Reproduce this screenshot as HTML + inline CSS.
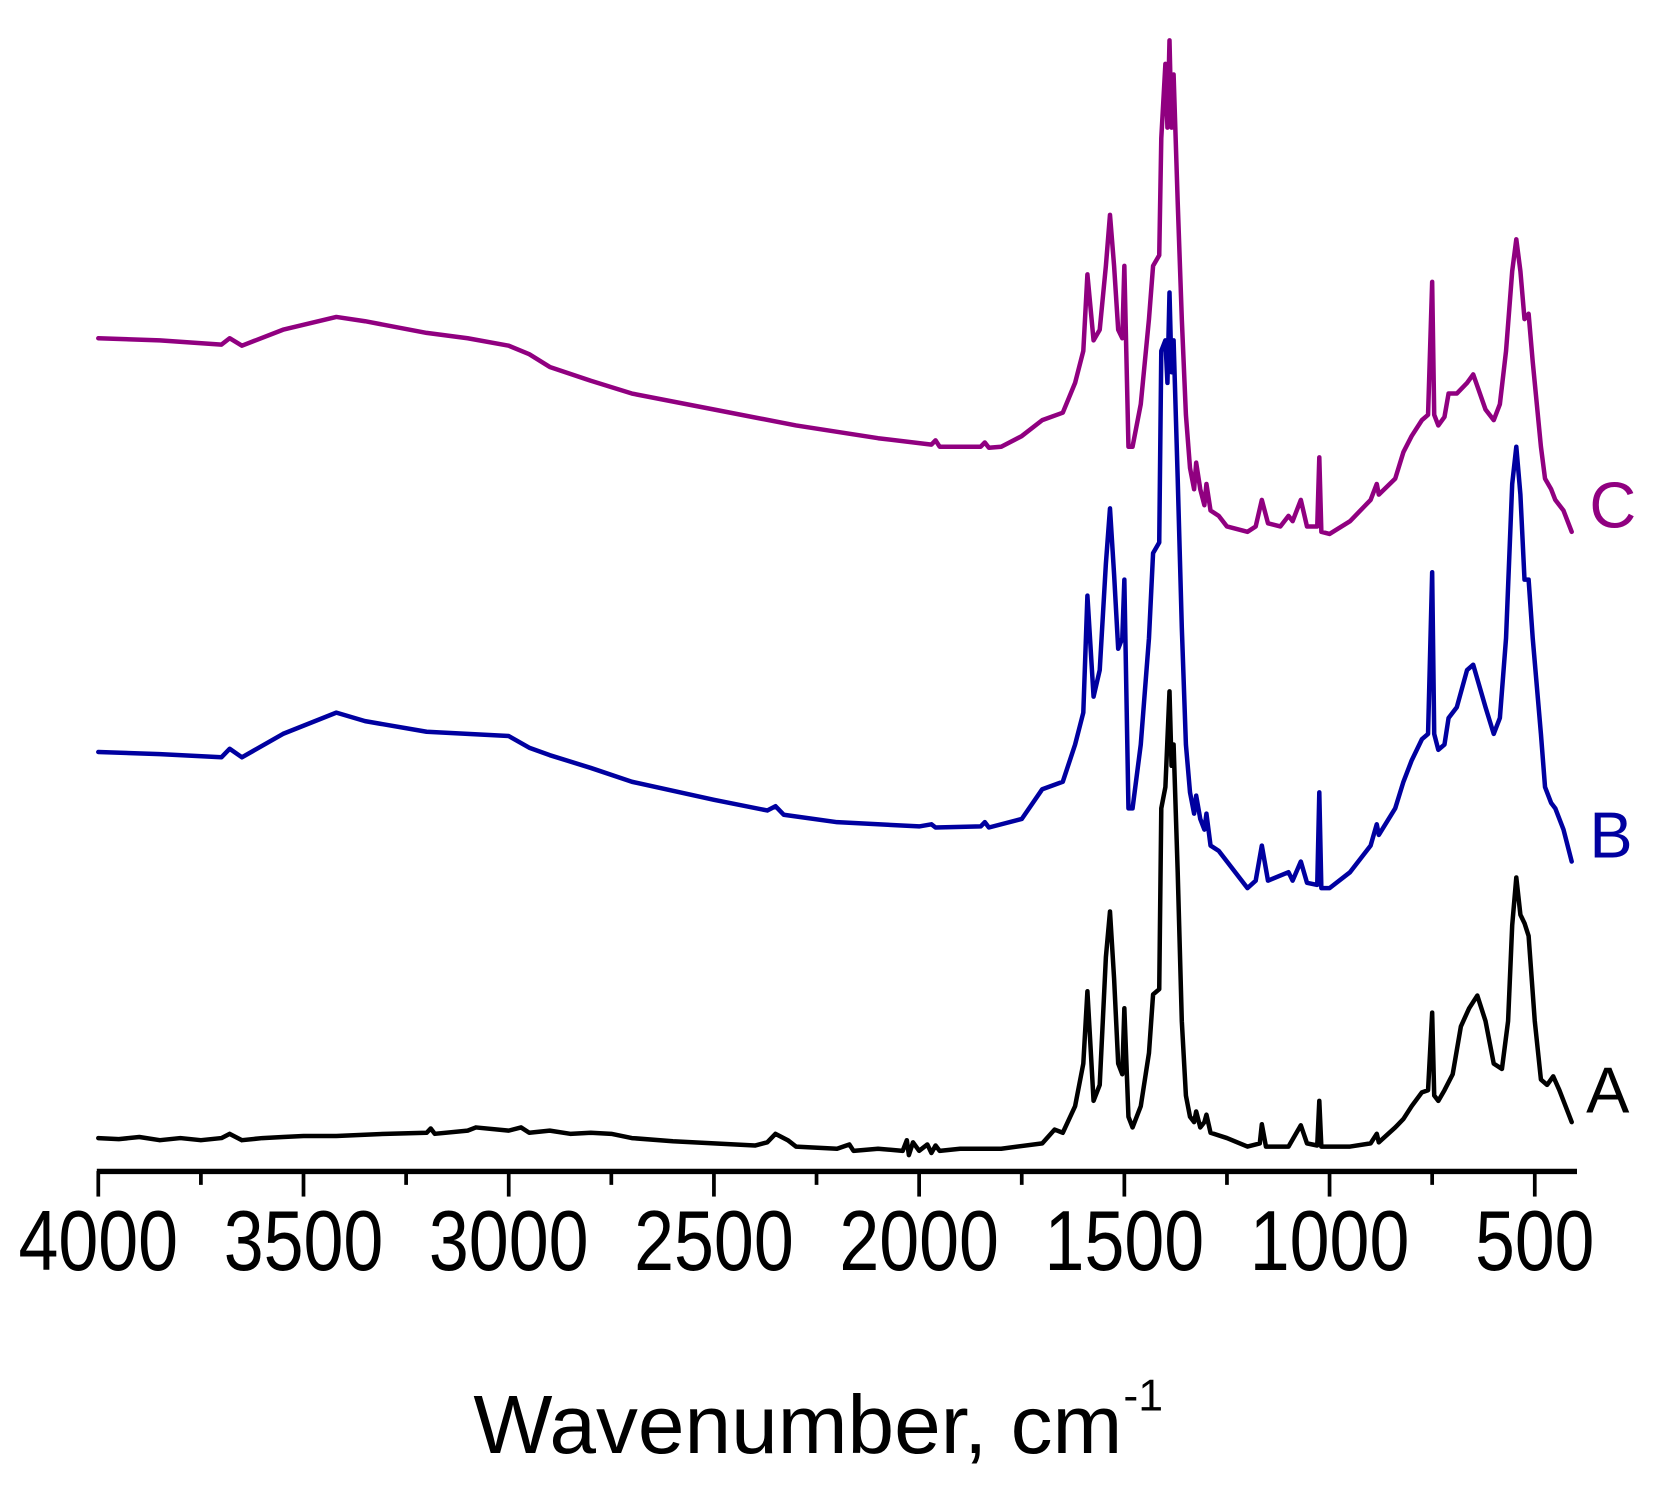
<!DOCTYPE html>
<html><head><meta charset="utf-8"><style>html,body{margin:0;padding:0;background:#fff;}svg{display:block;}</style></head>
<body>
<svg width="1667" height="1488" viewBox="0 0 1567 1399" preserveAspectRatio="none" xmlns="http://www.w3.org/2000/svg">
<rect width="1567" height="1399" fill="#fff"/>
<g transform="matrix(-0.3858,0,0,1,1635.6,0)" fill="none" stroke-linejoin="round" stroke-linecap="round">
<path vector-effect="non-scaling-stroke" stroke="#900080" stroke-width="4.5" d="M4000,318 L3850,320 L3700,324 L3680,318 L3650,325 L3550,310 L3420,298 L3350,302 L3200,313 L3100,318 L3000,325 L2950,333 L2900,345 L2800,358 L2700,370 L2500,385 L2300,400 L2100,412 L1970,418 L1960,414 L1950,420 L1850,420 L1840,416 L1830,421 L1800,420 L1750,410 L1700,395 L1650,388 L1620,360 L1600,330 L1590,258 L1575,320 L1560,310 L1545,250 L1535,202 L1525,250 L1515,310 L1505,318 L1500,250 L1490,420 L1480,420 L1460,380 L1440,300 L1430,250 L1415,240 L1410,130 L1400,60 L1395,120 L1390,38 L1385,120 L1380,70 L1370,190 L1360,300 L1350,390 L1340,440 L1330,460 L1325,435 L1315,460 L1305,475 L1300,455 L1290,480 L1270,485 L1250,495 L1200,500 L1180,495 L1165,470 L1150,492 L1120,495 L1100,485 L1090,490 L1070,470 L1055,495 L1030,495 L1025,430 L1020,500 L1000,502 L950,490 L900,470 L885,455 L880,465 L840,450 L820,425 L800,410 L775,395 L760,390 L750,265 L745,390 L735,400 L720,392 L710,370 L690,370 L665,360 L650,352 L620,385 L600,395 L585,380 L570,330 L555,255 L545,225 L535,255 L525,300 L515,295 L505,340 L485,420 L475,450 L460,460 L450,470 L430,480 L410,500"/>
<path vector-effect="non-scaling-stroke" stroke="#0000a0" stroke-width="4.5" d="M4000,707 L3850,709 L3700,712 L3680,704 L3650,712 L3550,690 L3420,670 L3350,678 L3200,688 L3100,690 L3000,692 L2950,703 L2900,710 L2800,722 L2700,735 L2500,752 L2370,762 L2350,758 L2330,766 L2200,773 L2000,777 L1970,775 L1960,778 L1850,777 L1840,773 L1830,778 L1750,770 L1700,742 L1650,735 L1620,700 L1600,670 L1590,560 L1575,655 L1560,630 L1545,530 L1535,478 L1525,540 L1515,610 L1505,600 L1500,545 L1490,760 L1480,760 L1460,700 L1440,600 L1430,520 L1415,510 L1410,330 L1400,320 L1395,360 L1390,275 L1385,350 L1380,320 L1370,450 L1360,590 L1350,700 L1340,745 L1330,765 L1325,748 L1315,770 L1305,780 L1300,765 L1290,795 L1270,800 L1250,810 L1200,835 L1180,828 L1165,795 L1150,828 L1100,820 L1090,828 L1070,810 L1055,830 L1030,832 L1025,745 L1020,835 L1000,835 L950,820 L900,795 L885,775 L880,785 L840,760 L820,735 L800,715 L775,695 L760,690 L750,538 L745,690 L735,705 L720,700 L710,675 L690,665 L665,630 L650,625 L620,665 L600,690 L585,675 L570,600 L555,455 L545,420 L535,465 L525,545 L515,545 L505,600 L485,690 L475,740 L460,755 L450,760 L430,780 L410,810"/>
<path vector-effect="non-scaling-stroke" stroke="#000" stroke-width="4.5" d="M4000,1070 L3950,1071 L3900,1069 L3850,1072 L3800,1070 L3750,1072 L3700,1070 L3680,1066 L3650,1072 L3600,1070 L3550,1069 L3500,1068 L3420,1068 L3300,1066 L3200,1065 L3190,1061 L3180,1066 L3100,1063 L3080,1060 L3000,1063 L2970,1060 L2950,1065 L2900,1063 L2850,1066 L2800,1065 L2750,1066 L2700,1070 L2600,1073 L2500,1075 L2400,1077 L2370,1074 L2350,1066 L2320,1072 L2300,1078 L2200,1080 L2170,1076 L2160,1082 L2100,1080 L2040,1082 L2030,1072 L2025,1086 L2015,1074 L2000,1082 L1980,1076 L1970,1084 L1960,1077 L1950,1082 L1900,1080 L1800,1080 L1700,1075 L1670,1062 L1650,1065 L1620,1040 L1600,1000 L1590,932 L1575,1035 L1560,1020 L1545,900 L1535,857 L1525,920 L1515,1000 L1505,1010 L1500,948 L1490,1050 L1480,1060 L1460,1040 L1440,990 L1430,935 L1415,930 L1410,760 L1400,740 L1390,650 L1385,720 L1380,700 L1370,820 L1360,960 L1350,1030 L1340,1050 L1330,1055 L1325,1045 L1315,1060 L1305,1055 L1300,1048 L1290,1065 L1250,1070 L1200,1078 L1170,1075 L1165,1057 L1155,1078 L1100,1078 L1070,1058 L1055,1075 L1030,1077 L1025,1035 L1020,1078 L950,1078 L900,1075 L885,1066 L880,1074 L840,1060 L820,1052 L800,1040 L775,1027 L760,1025 L750,952 L745,1030 L735,1035 L720,1025 L700,1010 L680,965 L660,948 L640,936 L620,960 L600,1000 L580,1005 L565,960 L555,870 L545,825 L535,860 L525,868 L515,880 L500,960 L485,1015 L470,1020 L455,1012 L440,1025 L410,1055"/>
</g>
<line x1="91" y1="1101.4" x2="1482.4" y2="1101.4" stroke="#000" stroke-width="5"/>
<g stroke="#000" stroke-width="3.5">
<line x1="92.4" y1="1101" x2="92.4" y2="1125"/><line x1="285.3" y1="1101" x2="285.3" y2="1125"/><line x1="478.2" y1="1101" x2="478.2" y2="1125"/><line x1="671.1" y1="1101" x2="671.1" y2="1125"/><line x1="864" y1="1101" x2="864" y2="1125"/><line x1="1056.9" y1="1101" x2="1056.9" y2="1125"/><line x1="1249.8" y1="1101" x2="1249.8" y2="1125"/><line x1="1442.7" y1="1101" x2="1442.7" y2="1125"/>
<line x1="188.85" y1="1101" x2="188.85" y2="1114"/><line x1="381.75" y1="1101" x2="381.75" y2="1114"/><line x1="574.65" y1="1101" x2="574.65" y2="1114"/><line x1="767.55" y1="1101" x2="767.55" y2="1114"/><line x1="960.45" y1="1101" x2="960.45" y2="1114"/><line x1="1153.35" y1="1101" x2="1153.35" y2="1114"/><line x1="1346.25" y1="1101" x2="1346.25" y2="1114"/>
</g>
<g font-family="Liberation Sans, Arial, sans-serif" fill="#000" font-size="80" text-anchor="middle">
<text x="92.4" y="1194" textLength="150" lengthAdjust="spacingAndGlyphs">4000</text>
<text x="285.3" y="1194" textLength="150" lengthAdjust="spacingAndGlyphs">3500</text>
<text x="478.2" y="1194" textLength="150" lengthAdjust="spacingAndGlyphs">3000</text>
<text x="671.1" y="1194" textLength="150" lengthAdjust="spacingAndGlyphs">2500</text>
<text x="864" y="1194" textLength="150" lengthAdjust="spacingAndGlyphs">2000</text>
<text x="1056.9" y="1194" textLength="150" lengthAdjust="spacingAndGlyphs">1500</text>
<text x="1249.8" y="1194" textLength="150" lengthAdjust="spacingAndGlyphs">1000</text>
<text x="1442.7" y="1194" textLength="112" lengthAdjust="spacingAndGlyphs">500</text>
</g>
<text x="445" y="1366" font-family="Liberation Sans, Arial, sans-serif" font-size="78" textLength="610" lengthAdjust="spacingAndGlyphs">Wavenumber, cm</text>
<text x="1056" y="1326" font-family="Liberation Sans, Arial, sans-serif" font-size="42">-1</text>
<text x="1494" y="496" font-family="Liberation Sans, Arial, sans-serif" font-size="61" fill="#900080">C</text>
<text x="1494" y="806" font-family="Liberation Sans, Arial, sans-serif" font-size="61" fill="#0000a0">B</text>
<text x="1491" y="1046" font-family="Liberation Sans, Arial, sans-serif" font-size="61" fill="#000">A</text>
</svg>
</body></html>
